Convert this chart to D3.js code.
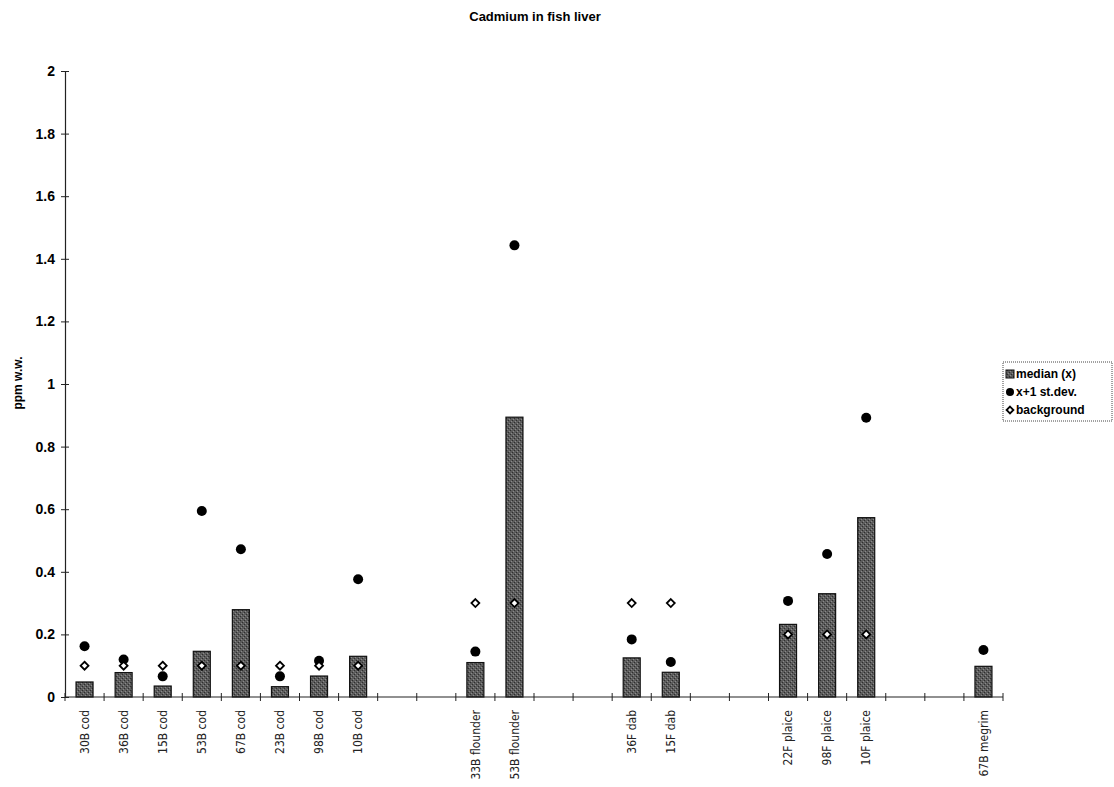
<!DOCTYPE html>
<html>
<head>
<meta charset="utf-8">
<script src="https://cdn.jsdelivr.net/npm/d3@7"></script>
<style>
  body { margin: 0; background: #fff; }
  svg { display: block; }
</style>
</head>
<body>
<svg id="chart" width="1114" height="787"></svg>
<script>
// Categories (names starting with "_" are the blank spacer slots of the original chart)
const categories = ["30B cod","36B cod","15B cod","53B cod","67B cod","23B cod","98B cod","10B cod",
  "_s1","_s2","33B flounder","53B flounder","_s3","_s4","36F dab","15F dab","_s5","_s6",
  "22F plaice","98F plaice","10F plaice","_s7","_s8","67B megrim"];
const median = [0.048,0.078,0.035,0.146,0.279,0.033,0.067,0.13,
  null,null,0.11,0.894,null,null,0.125,0.079,null,null,0.232,0.33,0.573,null,null,0.098];
const stdev = [0.162,0.12,0.066,0.594,0.472,0.066,0.116,0.376,
  null,null,0.145,1.443,null,null,0.184,0.112,null,null,0.307,0.457,0.892,null,null,0.15];
const background = [0.1,0.1,0.1,0.1,0.1,0.1,0.1,0.1,
  null,null,0.3,0.3,null,null,0.3,0.3,null,null,0.2,0.2,0.2,null,null,null];
const yTicks = [0,0.2,0.4,0.6,0.8,1,1.2,1.4,1.6,1.8,2];
const legendLabels = ["median (x)","x+1 st.dev.","background"];
const titleText = "Cadmium in fish liver";
const yLabel = "ppm w.w.";

(function () {
const svg = d3.select("#chart");
const mLeft = 65, mRight = 1003, mTop = 71, mBottom = 697;

const x = d3.scaleBand().domain(categories).range([mLeft, mRight]).paddingInner(0).paddingOuter(0);
const y = d3.scaleLinear().domain([0, 2]).range([mBottom, mTop]);

const defs = svg.append("defs");
const pat = defs.append("pattern").attr("id","stip").attr("patternUnits","userSpaceOnUse")
  .attr("width",4).attr("height",4);
pat.append("rect").attr("width",4).attr("height",4).attr("fill","#5c5c5c");
pat.append("rect").attr("x",0).attr("y",0).attr("width",1).attr("height",1).attr("fill","#2e2e2e");
pat.append("rect").attr("x",2).attr("y",2).attr("width",1).attr("height",1).attr("fill","#2e2e2e");
pat.append("rect").attr("x",1).attr("y",3).attr("width",1).attr("height",1).attr("fill","#8a8a8a");
pat.append("rect").attr("x",3).attr("y",1).attr("width",1).attr("height",1).attr("fill","#8a8a8a");

// Title
svg.append("text").attr("x", 535).attr("y", 21).attr("text-anchor","middle")
  .attr("font-family","Liberation Sans, Arial, sans-serif").attr("font-weight","bold")
  .attr("font-size", 13).text(titleText);

// Y label
svg.append("text").attr("transform","translate(22,383) rotate(-90)").attr("text-anchor","middle")
  .attr("font-family","Liberation Sans, Arial, sans-serif").attr("font-weight","bold")
  .attr("font-size", 12).text(yLabel);

// Y axis
const yAxis = d3.axisLeft(y).tickValues(yTicks).tickFormat(d => String(d)).tickSize(0);
const yg = svg.append("g").attr("transform",`translate(${mLeft},0)`).call(yAxis);
yg.select(".domain").attr("stroke","#222").attr("stroke-width",1.2);
yg.selectAll(".tick line").remove();
yg.selectAll(".tick").append("line").attr("x1",-4).attr("x2",4).attr("stroke","#222");
yg.selectAll(".tick text").attr("x",-10).attr("font-family","Liberation Sans, Arial, sans-serif")
  .attr("font-weight","bold").attr("font-size",14).attr("fill","#000");

// Bars
const idx = d3.range(categories.length);
const bw = 17;
svg.append("g").selectAll("rect").data(idx.filter(i => median[i] != null)).join("rect")
  .attr("x", i => x(categories[i]) + x.bandwidth()/2 - bw/2)
  .attr("y", i => y(median[i]))
  .attr("width", bw)
  .attr("height", i => y(0) - y(median[i]))
  .attr("fill","url(#stip)").attr("stroke","#111").attr("stroke-width",1.2);

// X axis
const xg = svg.append("g").attr("transform",`translate(0,${mBottom})`);
xg.append("line").attr("x1",mLeft).attr("x2",mRight).attr("stroke","#222").attr("stroke-width",1.2);
const tickPos = d3.range(categories.length + 1).map(i => mLeft + i * x.step());
xg.selectAll("line.t").data(tickPos).join("line").attr("class","t")
  .attr("x1", d => d).attr("x2", d => d).attr("y1",-4).attr("y2",4).attr("stroke","#222");
xg.selectAll("text").data(idx.filter(i => !categories[i].startsWith("_"))).join("text")
  .attr("transform", i => `translate(${x(categories[i]) + x.bandwidth()/2},13) rotate(-90)`)
  .attr("text-anchor","end").attr("dy","0.35em")
  .attr("font-family","Liberation Sans Narrow, Arial Narrow, DejaVu Sans Condensed, sans-serif")
  .attr("font-size",12).attr("fill","#222")
  .text(i => categories[i]);

// Circles (x+1 st.dev.)
svg.append("g").selectAll("circle").data(idx.filter(i => stdev[i] != null)).join("circle")
  .attr("cx", i => x(categories[i]) + x.bandwidth()/2)
  .attr("cy", i => y(stdev[i]))
  .attr("r", 5).attr("fill","#000");

// Diamonds (background)
const dsym = d3.symbol().type(d3.symbolDiamond2).size(40);
svg.append("g").selectAll("path").data(idx.filter(i => background[i] != null)).join("path")
  .attr("transform", i => `translate(${x(categories[i]) + x.bandwidth()/2},${y(background[i])})`)
  .attr("d", dsym).attr("fill","#fff").attr("stroke","#000").attr("stroke-width",1.8);

// Legend
const lg = svg.append("g").attr("transform","translate(1003,362)");
lg.append("rect").attr("width",109).attr("height",59).attr("fill","#fff")
  .attr("stroke","#444").attr("stroke-width",1).attr("stroke-dasharray","1,1");
const ly = [12, 30, 48];
lg.append("rect").attr("x",3).attr("y",ly[0]-4).attr("width",8).attr("height",8)
  .attr("fill","url(#stip)").attr("stroke","#111");
lg.append("circle").attr("cx",7).attr("cy",ly[1]).attr("r",4).attr("fill","#000");
lg.append("path").attr("transform",`translate(7,${ly[2]})`).attr("d", d3.symbol().type(d3.symbolDiamond2).size(30))
  .attr("fill","#fff").attr("stroke","#000").attr("stroke-width",1.8);
lg.selectAll("text").data(legendLabels).join("text")
  .attr("x",13).attr("y",(d,i) => ly[i]).attr("dy","0.35em")
  .attr("font-family","Liberation Sans, Arial, sans-serif").attr("font-weight","bold")
  .attr("font-size",12).text(d => d);
})();
</script>
</body>
</html>
